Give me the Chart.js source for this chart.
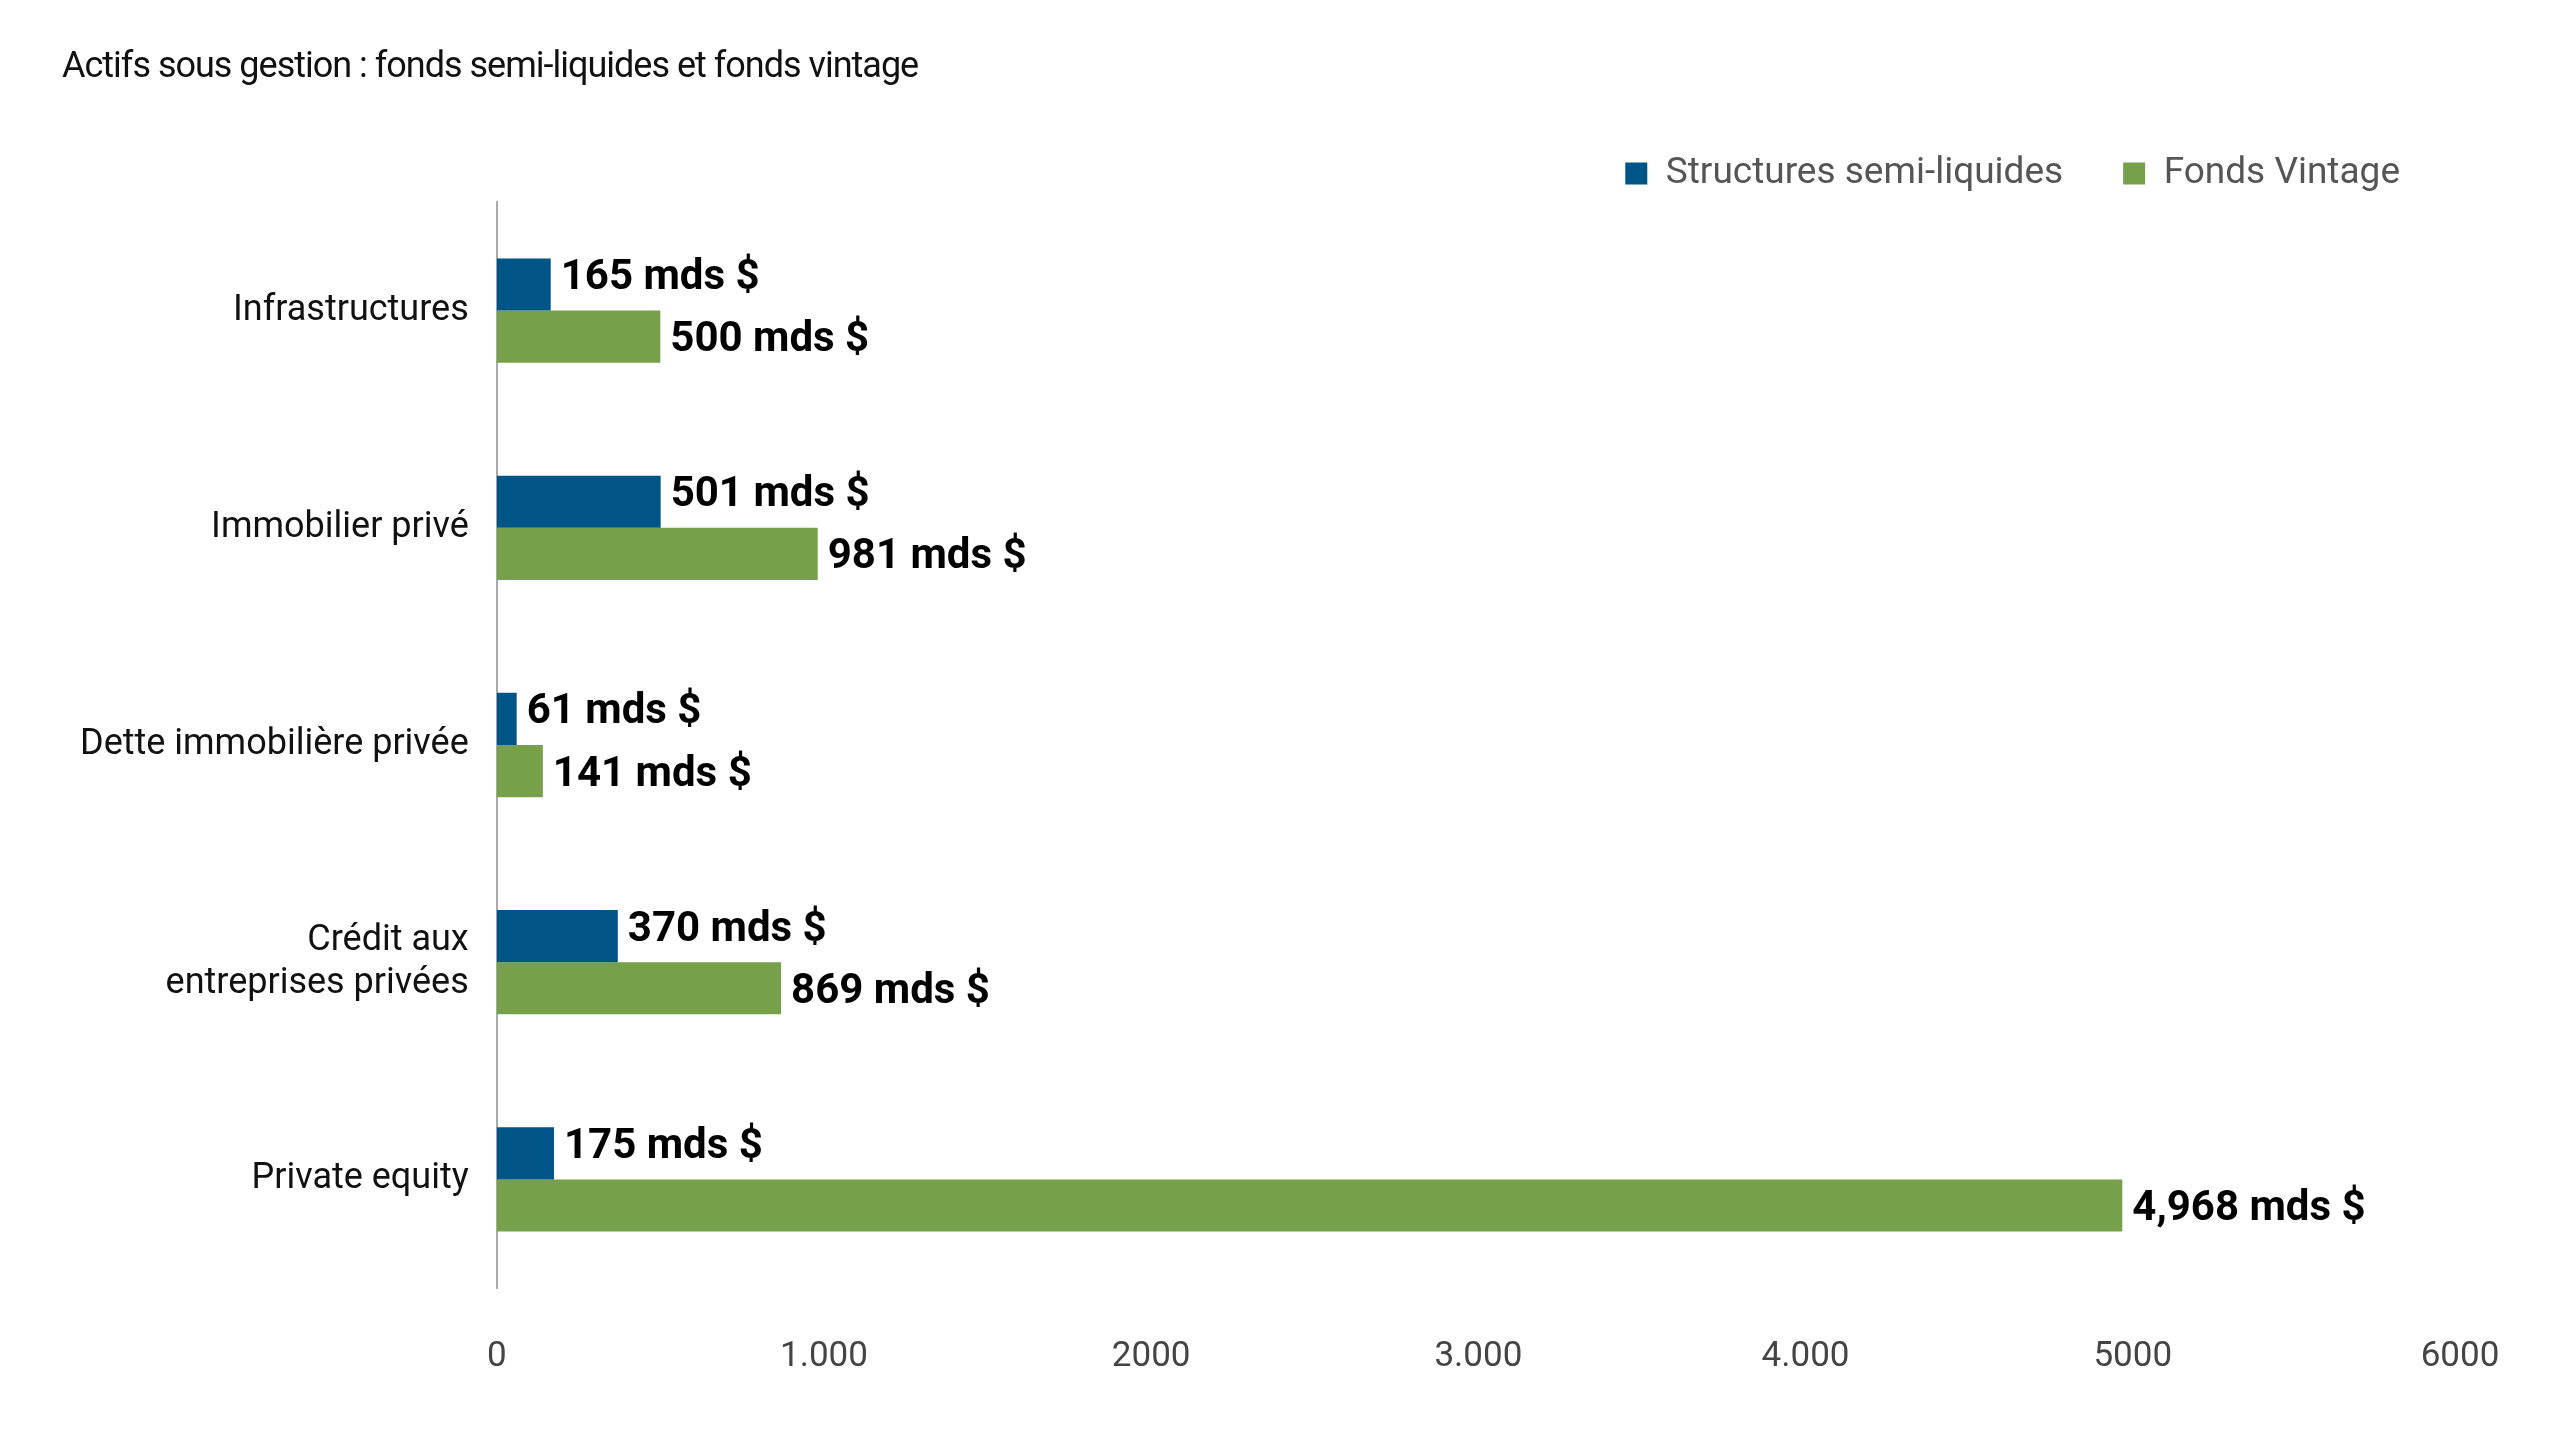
<!DOCTYPE html>
<html>
<head>
<meta charset="utf-8">
<script src="https://cdn.jsdelivr.net/npm/chart.js@4"></script>
<style>
  html, body { margin: 0; background: #fff; }
  #wrap { width: 2560px; height: 1440px; position: relative; }
  #title { position: absolute; left: 62px; top: 44px; font: 36px "Liberation Sans Narrow", Roboto, sans-serif; color: #111; letter-spacing: -1px; }
</style>
</head>
<body>
<div id="wrap">
  <div id="title">Actifs sous gestion : fonds semi-liquides et fonds vintage</div>
  <canvas id="chart" width="2560" height="1440"></canvas>
</div>
<script>
const categories = ['Infrastructures', 'Immobilier privé', 'Dette immobilière privée', ['Crédit aux', 'entreprises privées'], 'Private equity'];
const semiLiquid = [165, 501, 61, 370, 175];
const vintage = [500, 981, 141, 869, 4968];
const semiLabels = ['165 mds $', '501 mds $', '61 mds $', '370 mds $', '175 mds $'];
const vintageLabels = ['500 mds $', '981 mds $', '141 mds $', '869 mds $', '4,968 mds $'];
const tickLabels = ['0', '1.000', '2000', '3.000', '4.000', '5000', '6000'];

const FONT = '"Liberation Sans Narrow", Roboto, sans-serif';

// value labels at the end of each bar
const barLabels = {
    id: 'barLabels',
    afterDatasetsDraw(chart) {
        const ctx = chart.ctx;
        ctx.save();
        ctx.font = 'bold 42px ' + FONT;
        ctx.fillStyle = '#000';
        ctx.textBaseline = 'middle';
        chart.data.datasets.forEach((ds, i) => {
            const texts = i === 0 ? semiLabels : vintageLabels;
            chart.getDatasetMeta(i).data.forEach((bar, j) => {
                const dy = i === 0 ? -6 : 4;
                ctx.fillText(texts[j], bar.x + 10, bar.y + dy);
            });
        });
        ctx.restore();
    }
};

new Chart(document.getElementById('chart'), {
    type: 'bar',
    data: {
        labels: categories,
        datasets: [
            { label: 'Structures semi-liquides', data: semiLiquid, backgroundColor: '#005587' },
            { label: 'Fonds Vintage', data: vintage, backgroundColor: '#77a04a' }
        ]
    },
    options: {
        indexAxis: 'y',
        responsive: false,
        animation: false,
        barPercentage: 1,
        categoryPercentage: 0.48,
        layout: { padding: { left: 60, right: 100, top: 95, bottom: 22 } },
        plugins: {
            legend: {
                align: 'end',
                labels: {
                    font: { family: FONT, size: 37 }, color: '#555',
                    boxWidth: 22, boxHeight: 22, padding: 60
                }
            },
            tooltip: { enabled: false }
        },
        scales: {
            x: {
                min: 0, max: 6000,
                ticks: {
                    stepSize: 1000,
                    font: { family: FONT, size: 35 }, color: '#444', padding: 40,
                    callback: (v, i) => tickLabels[i]
                },
                grid: { display: false },
                border: { display: false }
            },
            y: {
                ticks: { font: { family: FONT, size: 36 }, color: '#111', padding: 20 },
                grid: { display: false },
                border: { color: '#aaa', width: 2 }
            }
        }
    },
    plugins: [barLabels]
});
</script>
</body>
</html>
